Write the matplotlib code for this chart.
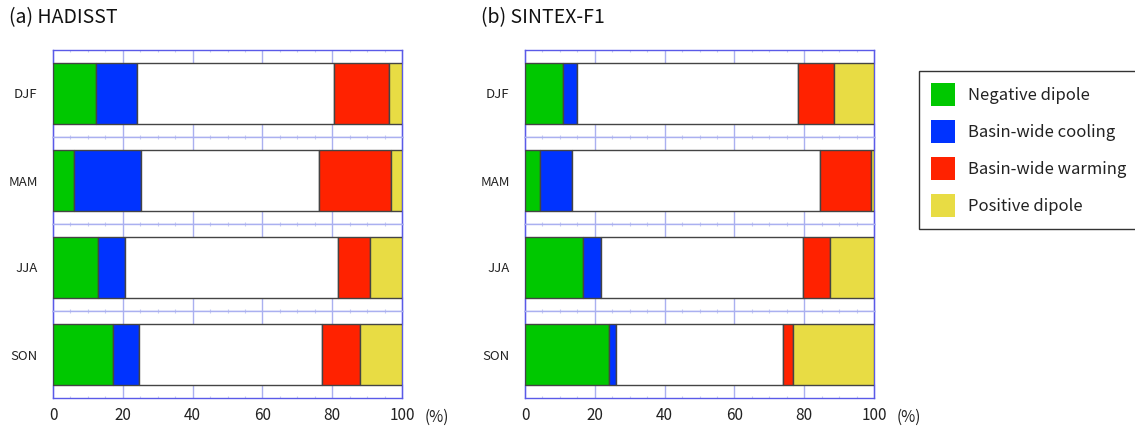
import matplotlib
matplotlib.use("Agg")
from matplotlib import pyplot as plt
from matplotlib.patches import Patch
from matplotlib.ticker import MultipleLocator
import numpy as np

plt.rcParams['font.family'] = ['Noto Sans CJK JP', 'DejaVu Sans']

seasons = ['DJF', 'MAM', 'JJA', 'SON']
categories = ['Negative dipole', 'Basin-wide cooling', 'Basin-wide warming', 'Positive dipole']
colors = ['#00c800', '#0033ff', '#ff2200', '#e8dc44']

# percentages (neutral part = remainder)
had_neg = [12.3, 6.1, 13.0, 17.1]
had_cool = [11.7, 19.1, 7.5, 7.4]
had_warm = [15.8, 20.6, 8.9, 11.0]
had_pos = [3.8, 3.2, 9.3, 12.0]

sin_neg = [10.9, 4.3, 16.5, 24.2]
sin_cool = [3.9, 9.3, 5.3, 1.8]
sin_warm = [10.3, 14.5, 7.6, 2.9]
sin_pos = [11.5, 0.9, 12.7, 23.1]

panels = [
  ('(a) HADISST', [had_neg, had_cool, had_warm, had_pos], 53),
  ('(b) SINTEX-F1', [sin_neg, sin_cool, sin_warm, sin_pos], 525),
]

W, H = 1135, 428
fig = plt.figure(figsize=(W / 100, H / 100), dpi=100)

frame_col = '#5a5ae8'
tick_col = '#aab0f0'
minor_col = '#c8ccf4'
edge_col = '#444444'
txt_col = '#222222'

top_px, bot_px = 50, 398
row_h = (bot_px - top_px) / len(seasons)

for title, vals, left_px in panels:
  neg, cool, warm, pos = vals
  for i, s in enumerate(seasons):
    y_top = top_px + i * row_h
    ax = fig.add_axes([left_px / W, 1 - (y_top + row_h) / H, 349 / W, row_h / H])
    segs = [neg[i], cool[i], 100 - neg[i] - cool[i] - warm[i] - pos[i], warm[i], pos[i]]
    cols = [colors[0], colors[1], 'white', colors[2], colors[3]]
    lefts = np.concatenate([[0], np.cumsum(segs)[:-1]])
    ax.barh(0.5, segs, left=lefts, height=0.71, color=cols,
            edgecolor=edge_col, linewidth=1.0, zorder=3)
    ax.set_xlim(0, 100)
    ax.set_ylim(0, 1)
    ax.set_yticks([0.5])
    ax.set_yticklabels([s])
    ax.tick_params(axis='y', length=0, pad=11, labelsize=9.5, labelcolor=txt_col)
    ax.xaxis.set_major_locator(MultipleLocator(20))
    ax.xaxis.set_minor_locator(MultipleLocator(5))
    ax.tick_params(axis='x', which='major', direction='in', top=True, bottom=True,
                   length=10, width=1.0, color=tick_col)
    ax.tick_params(axis='x', which='minor', direction='in', top=True, bottom=True,
                   length=1.5, width=0.8, color=minor_col)
    for sp in ax.spines.values():
      sp.set_color(frame_col)
      sp.set_linewidth(1.0)
    if s != 'SON':
      ax.spines['bottom'].set_color(tick_col)
      ax.tick_params(axis='x', labelbottom=False)
    else:
      ax.tick_params(axis='x', labelsize=11, labelcolor=txt_col, pad=6.5)
      ax.text(1.10, -0.22, '(%)', transform=ax.transAxes, ha='center', va='center',
              fontsize=11, color=txt_col)
    if s != 'DJF':
      ax.spines['top'].set_color(tick_col)
    else:
      fig.text((left_px - 44) / W, 1 - 18 / H, title, ha='left', va='center',
               fontsize=14, color='#111111')

handles = [Patch(facecolor=c, edgecolor='none') for c in colors]
leg = fig.legend(handles, categories, loc='upper left',
                 bbox_to_anchor=(919 / W, 1 - 71 / H), fontsize=12,
                 handlelength=1.45, handleheight=1.75, labelspacing=0.85,
                 handletextpad=0.78, borderpad=0.7, borderaxespad=0,
                 fancybox=False, edgecolor='#333333', framealpha=1)
leg.get_frame().set_linewidth(1.0)
for t in leg.get_texts():
  t.set_color(txt_col)

fig.savefig('out.png', dpi=100)
